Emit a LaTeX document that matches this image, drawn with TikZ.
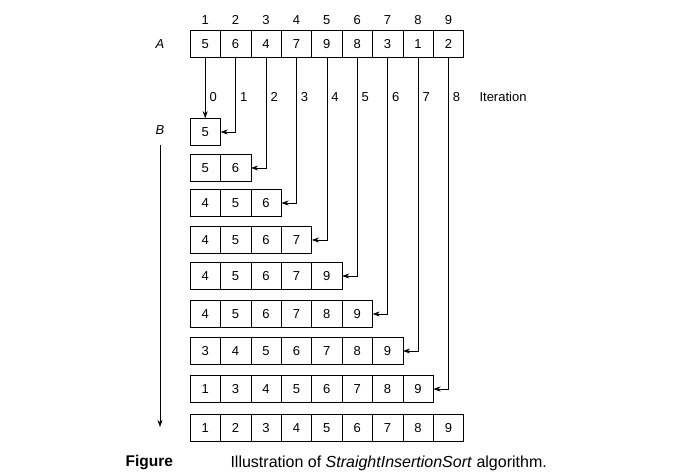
\documentclass[tikz,border=0pt]{standalone}
\usepackage{fontspec}
\setmainfont{Liberation Sans}
\usetikzlibrary{arrows.meta}
\begin{document}
\begin{tikzpicture}[x=1pt,y=-1pt,
  cell/.style={draw,semithick,minimum width=30.4pt,minimum height=27pt,inner sep=0pt,font=\fontsize{13}{13}\selectfont},
  lbl/.style={font=\fontsize{13}{13}\selectfont},
  conn/.style={semithick,-{Stealth[length=7pt,width=5pt]}}]
\useasboundingbox (0,0) rectangle (689,476);
\def\W{30.4}
% array A
\foreach \v [count=\i] in {5,6,4,7,9,8,3,1,2}{
  \node[cell] (a\i) at ({190+\W*(\i-0.5)},44) {\v};
  \node[lbl] (n\i) at ({190+\W*(\i-0.5)},20) {\i};
}
\node[lbl,font=\fontsize{13}{13}\selectfont\itshape] (A) at (160,44) {A};
\node[lbl,font=\fontsize{13}{13}\selectfont\itshape] (B) at (160,130) {B};
\coordinate (bs) at (160,145);
\coordinate (be) at (160,427);
\draw[conn] (bs) -- (be);
\node[lbl,anchor=west] (it) at (476,97) {Iteration};
\foreach \r/\y [count=\k from 0] in {{5}/132,{5,6}/168,{4,5,6}/203,{4,5,6,7}/240,{4,5,6,7,9}/276,{4,5,6,7,8,9}/314,{3,4,5,6,7,8,9}/351,{1,3,4,5,6,7,8,9}/389,{1,2,3,4,5,6,7,8,9}/428}{
  \foreach \v [count=\j] in \r {
    \node[cell] (r\k c\j) at ({190+\W*(\j-0.5)},\y) {\v};
  }
}
\foreach \i [count=\c] in {0,...,8}{
  \node[lbl,anchor=west] (l\i) at ({190+\W*(\c-0.5)+1},97) {\i};
}
\draw[conn] (a1.south) -- (r0c1.north);
\draw[conn] (a2.south) |- (r0c1.east);
\draw[conn] (a3.south) |- (r1c2.east);
\draw[conn] (a4.south) |- (r2c3.east);
\draw[conn] (a5.south) |- (r3c4.east);
\draw[conn] (a6.south) |- (r4c5.east);
\draw[conn] (a7.south) |- (r5c6.east);
\draw[conn] (a8.south) |- (r6c7.east);
\draw[conn] (a9.south) |- (r7c8.east);
\node[lbl,font=\fontsize{15.5}{15.5}\selectfont\bfseries,anchor=west] (fig) at (122,463) {Figure};
\node[lbl,font=\fontsize{16}{16}\selectfont,anchor=west] (cap) at (227,463) {Illustration of \textit{StraightInsertionSort} algorithm.};
\end{tikzpicture}
\end{document}
